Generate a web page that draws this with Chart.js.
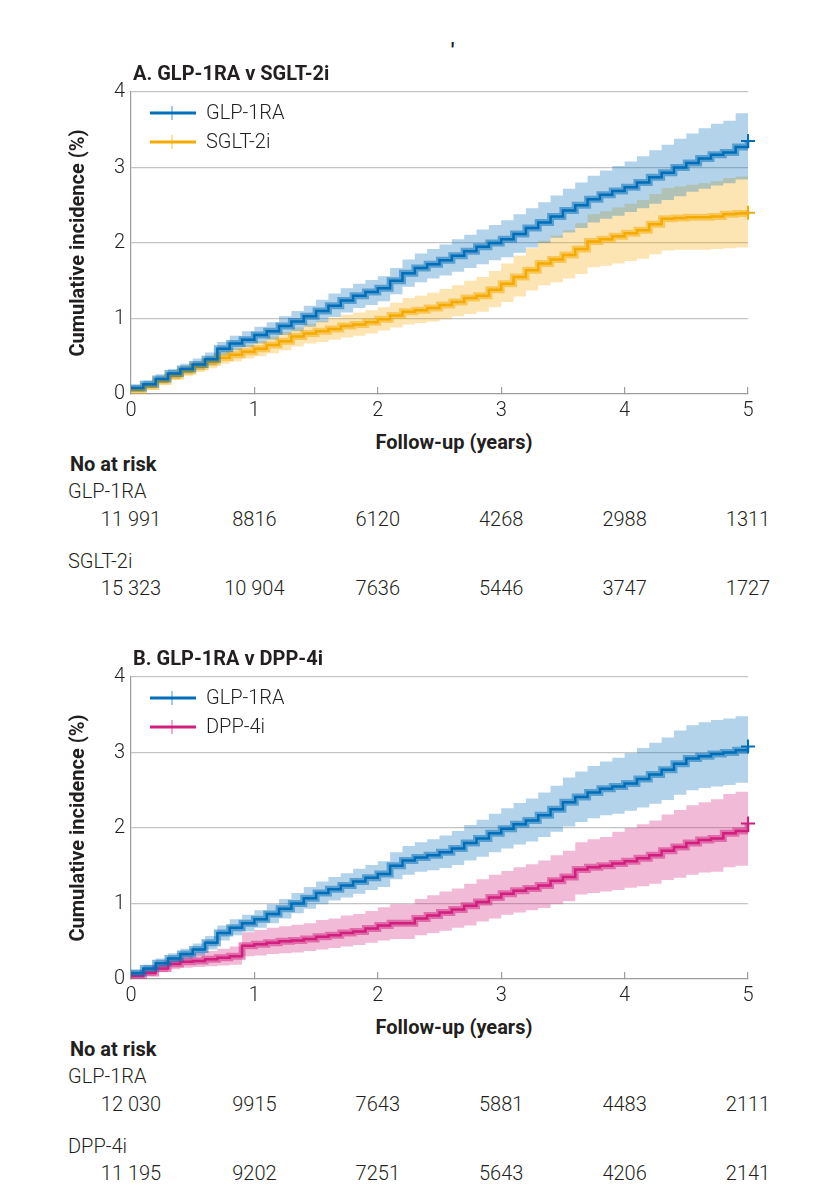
<!DOCTYPE html>
<html><head><meta charset="utf-8">
<script src="https://cdn.jsdelivr.net/npm/chart.js@4.4.1/dist/chart.umd.min.js"></script>
<style>
html,body{margin:0;padding:0;background:#fff;}
body{width:817px;height:1200px;position:relative;overflow:hidden;font-family:Roboto,"Open Sans",sans-serif;color:#231f20;}
.t{position:absolute;white-space:nowrap;line-height:20px;height:20px;font-size:20px;}
.b{font-weight:700;}
.l{font-weight:300;}
canvas{position:absolute;left:0;}
</style></head><body>
<canvas id="cA" width="817" height="340" style="top:80px"></canvas>
<canvas id="cB" width="817" height="340" style="top:665px"></canvas>
<script>
// ---------- DATA ----------
const years = [0,0.1,0.2,0.3,0.4,0.5,0.6,0.7,0.8,0.9,1,1.1,1.2,1.3,1.4,1.5,1.6,1.7,1.8,1.9,2,2.1,2.2,2.3,2.4,2.5,2.6,2.7,2.8,2.9,3,3.1,3.2,3.3,3.4,3.5,3.6,3.7,3.8,3.9,4,4.1,4.2,4.3,4.4,4.5,4.6,4.7,4.8,4.9,5];
const yTicks = [0,1,2,3,4];
const xTicks = [0,1,2,3,4,5];

// Panel A: GLP-1RA v SGLT-2i
const aGlpMid = [0.08,0.13,0.2,0.27,0.33,0.39,0.46,0.6,0.67,0.72,0.78,0.83,0.9,0.96,1.03,1.1,1.17,1.24,1.3,1.35,1.4,1.5,1.6,1.67,1.72,1.77,1.83,1.89,1.95,2.0,2.05,2.12,2.2,2.27,2.35,2.43,2.5,2.58,2.64,2.69,2.74,2.8,2.87,2.93,3.0,3.06,3.12,3.17,3.2,3.27,3.35];
const aGlpHi  = [0.12,0.18,0.26,0.33,0.4,0.47,0.55,0.69,0.77,0.83,0.89,0.95,1.03,1.1,1.17,1.25,1.33,1.4,1.46,1.51,1.56,1.67,1.78,1.86,1.92,1.98,2.05,2.11,2.18,2.24,2.3,2.38,2.46,2.54,2.63,2.72,2.8,2.89,2.96,3.02,3.08,3.15,3.23,3.3,3.38,3.45,3.52,3.58,3.62,3.72,3.82];
const aGlpLo  = [0.04,0.09,0.15,0.21,0.27,0.32,0.38,0.51,0.58,0.62,0.67,0.72,0.78,0.83,0.89,0.95,1.02,1.08,1.14,1.18,1.23,1.32,1.42,1.48,1.53,1.57,1.62,1.67,1.72,1.77,1.81,1.87,1.94,2.0,2.07,2.14,2.2,2.27,2.32,2.36,2.41,2.46,2.52,2.57,2.62,2.68,2.72,2.76,2.79,2.84,2.9];
const aSgltMid = [0.05,0.1,0.17,0.24,0.3,0.36,0.42,0.48,0.52,0.56,0.6,0.65,0.7,0.76,0.8,0.83,0.86,0.9,0.92,0.95,0.99,1.04,1.09,1.11,1.14,1.18,1.22,1.27,1.3,1.38,1.46,1.55,1.64,1.73,1.78,1.84,1.92,2.02,2.05,2.09,2.13,2.17,2.25,2.32,2.33,2.34,2.34,2.35,2.38,2.39,2.4];
const aSgltHi  = [0.08,0.14,0.21,0.29,0.36,0.42,0.49,0.56,0.61,0.65,0.7,0.76,0.82,0.88,0.93,0.97,1.01,1.05,1.08,1.11,1.15,1.21,1.27,1.3,1.34,1.39,1.44,1.5,1.55,1.63,1.73,1.83,1.93,2.03,2.1,2.17,2.26,2.38,2.42,2.47,2.52,2.57,2.65,2.73,2.75,2.77,2.79,2.82,2.86,2.88,2.9];
const aSgltLo  = [0.02,0.07,0.13,0.19,0.24,0.29,0.34,0.4,0.43,0.47,0.5,0.54,0.58,0.63,0.67,0.69,0.72,0.75,0.77,0.8,0.84,0.88,0.92,0.94,0.96,0.99,1.03,1.06,1.09,1.15,1.22,1.29,1.37,1.44,1.48,1.53,1.59,1.68,1.7,1.73,1.76,1.79,1.85,1.9,1.91,1.91,1.91,1.92,1.93,1.94,1.95];
const aRiskGlp  = ["11 991","8816","6120","4268","2988","1311"];
const aRiskSglt = ["15 323","10 904","7636","5446","3747","1727"];

// Panel B: GLP-1RA v DPP-4i
const bGlpMid = [0.08,0.14,0.21,0.27,0.33,0.39,0.48,0.61,0.68,0.74,0.79,0.86,0.93,1.0,1.07,1.14,1.19,1.24,1.29,1.34,1.39,1.5,1.57,1.61,1.64,1.68,1.73,1.8,1.86,1.93,1.99,2.05,2.1,2.17,2.25,2.34,2.41,2.47,2.52,2.55,2.59,2.65,2.71,2.77,2.85,2.92,2.95,2.98,3.0,3.03,3.08];
const bGlpHi  = [0.12,0.19,0.27,0.34,0.4,0.47,0.57,0.71,0.79,0.85,0.91,0.99,1.06,1.14,1.22,1.29,1.35,1.4,1.46,1.51,1.56,1.68,1.76,1.81,1.85,1.9,1.96,2.04,2.11,2.19,2.26,2.33,2.39,2.47,2.56,2.67,2.75,2.82,2.88,2.93,2.99,3.06,3.13,3.2,3.29,3.36,3.4,3.43,3.45,3.48,3.52];
const bGlpLo  = [0.04,0.09,0.16,0.21,0.26,0.31,0.39,0.51,0.58,0.63,0.68,0.74,0.8,0.87,0.93,0.99,1.04,1.08,1.13,1.18,1.22,1.32,1.38,1.42,1.44,1.47,1.51,1.57,1.62,1.68,1.73,1.78,1.82,1.88,1.95,2.02,2.08,2.13,2.17,2.19,2.23,2.27,2.32,2.37,2.44,2.5,2.53,2.55,2.57,2.6,2.64];
const bDppMid = [0.04,0.08,0.14,0.2,0.23,0.24,0.26,0.28,0.3,0.44,0.46,0.48,0.5,0.51,0.53,0.56,0.58,0.61,0.63,0.67,0.71,0.74,0.74,0.8,0.84,0.88,0.92,0.97,1.02,1.08,1.13,1.17,1.2,1.24,1.3,1.35,1.45,1.48,1.5,1.53,1.56,1.6,1.64,1.7,1.75,1.8,1.84,1.86,1.93,1.96,2.06];
const bDppHi  = [0.07,0.13,0.21,0.29,0.33,0.35,0.37,0.4,0.43,0.62,0.65,0.68,0.7,0.72,0.74,0.78,0.8,0.84,0.86,0.9,0.95,0.99,0.99,1.06,1.11,1.16,1.2,1.26,1.32,1.38,1.43,1.48,1.52,1.57,1.64,1.7,1.81,1.85,1.88,1.95,2.0,2.05,2.1,2.18,2.24,2.3,2.34,2.38,2.45,2.48,2.55];
const bDppLo  = [0.01,0.04,0.09,0.13,0.15,0.16,0.17,0.18,0.19,0.3,0.31,0.33,0.34,0.35,0.37,0.39,0.41,0.43,0.45,0.48,0.51,0.53,0.53,0.58,0.61,0.64,0.68,0.71,0.76,0.8,0.85,0.88,0.91,0.94,0.99,1.03,1.12,1.14,1.16,1.18,1.21,1.23,1.26,1.31,1.34,1.38,1.41,1.42,1.48,1.5,1.57];
const bRiskGlp = ["12 030","9915","7643","5881","4483","2111"];
const bRiskDpp = ["11 195","9202","7251","5643","4206","2141"];

// ---------- STYLE ----------
const BLUE = [0,110,184], YEL = [245,170,0], PINK = [210,30,125];
const rgba = (c,a) => `rgba(${c[0]},${c[1]},${c[2]},${a})`;
const FONT = 'Roboto, "Open Sans", sans-serif';
const TXT = '#231f20';

function pts(arr){ return arr.map((v,i)=>({x:years[i], y:v})); }

function seriesSets(name, col, lo, hi, mid){
  const last = mid.length-1;
  return [
    {label:name+' lo', data:pts(lo), stepped:'before', borderWidth:0, pointRadius:0, fill:false, backgroundColor:'transparent'},
    {label:name+' hi', data:pts(hi), stepped:'before', borderWidth:0, pointRadius:0, fill:'-1', backgroundColor:rgba(col,0.3)},
    {label:name+' halo', data:pts(mid), stepped:'before', borderColor:rgba(col,0.5), borderWidth:7, pointRadius:0, fill:false},
    {label:name, data:pts(mid), stepped:'before', borderColor:rgba(col,1), borderWidth:2.5, fill:false, clip:false,
     pointStyle:'cross', pointRadius:ctx=>ctx.dataIndex===last?7:0, pointBorderColor:rgba(col,1), pointBorderWidth:2, pointBackgroundColor:rgba(col,1)}
  ];
}

const legendPlugin = {
  id:'kmLegend',
  afterDraw(chart){
    const items = chart.options.plugins.kmLegend.items;
    const ctx = chart.ctx, L = chart.chartArea.left, T = chart.chartArea.top;
    ctx.save();
    items.forEach((it,i)=>{
      const y = T + 21 + i*29;
      ctx.strokeStyle = rgba(it.col,1); ctx.lineWidth = 3;
      ctx.beginPath(); ctx.moveTo(L+19,y); ctx.lineTo(L+65,y); ctx.stroke();
      ctx.strokeStyle = rgba(it.col,0.6); ctx.lineWidth = 1.2;
      ctx.beginPath(); ctx.moveTo(L+41,y-7); ctx.lineTo(L+41,y+7); ctx.stroke();
      ctx.fillStyle = TXT; ctx.font = '300 20px '+FONT; ctx.textBaseline='middle'; ctx.textAlign='left';
      ctx.fillText(it.name, L+75, y+1);
    });
    ctx.restore();
  }
};

function makeChart(id, sets, legendItems){
  return new Chart(document.getElementById(id), {
    type:'line',
    data:{datasets:sets},
    plugins:[legendPlugin],
    options:{
      responsive:false, animation:false, events:[],
      layout:{padding:{left:0,right:69,top:0,bottom:0}},
      plugins:{legend:{display:false}, tooltip:{enabled:false}, filler:{drawTime:'beforeDatasetsDraw'}, kmLegend:{items:legendItems}},
      scales:{
        x:{type:'linear', min:0, max:5,
           afterBuildTicks(s){ s.ticks = xTicks.map(v=>({value:v})); },
           ticks:{font:{family:FONT,size:20,weight:'300'}, color:TXT, padding:12, maxRotation:0},
           grid:{drawOnChartArea:false, drawTicks:true, tickLength:-7, color:'#9d9d9d', lineWidth:1.2},
           border:{display:true, color:'#9d9d9d', width:1.2},
           afterFit(s){ s.height = 26; }},
        y:{min:0, max:4,
           afterBuildTicks(s){ s.ticks = yTicks.map(v=>({value:v})); },
           ticks:{font:{family:FONT,size:20,weight:'300'}, color:TXT, padding:6},
           grid:{drawTicks:false, color:ctx=>ctx.tick && ctx.tick.value===0?'rgba(0,0,0,0)':'#c4c4c4', lineWidth:1.3},
           border:{display:true, color:'#9d9d9d', width:1.2},
           title:{display:true, text:'Cumulative incidence (%)', font:{family:FONT,size:20,weight:'700'}, color:TXT, padding:{top:67,bottom:0}},
           afterFit(s){ s.width = 131; s.paddingTop = 12; }}
      }
    }
  });
}

const chartA = makeChart('cA', [
  ...seriesSets('GLP-1RA', BLUE, aGlpLo, aGlpHi, aGlpMid),
  ...seriesSets('SGLT-2i', YEL, aSgltLo, aSgltHi, aSgltMid)
], [{name:'GLP-1RA', col:BLUE},{name:'SGLT-2i', col:YEL}]);

const chartB = makeChart('cB', [
  ...seriesSets('GLP-1RA', BLUE, bGlpLo, bGlpHi, bGlpMid),
  ...seriesSets('DPP-4i', PINK, bDppLo, bDppHi, bDppMid)
], [{name:'GLP-1RA', col:BLUE},{name:'DPP-4i', col:PINK}]);

// ---------- TEXT ----------
function put(text, x, yc, cls, align){
  const d = document.createElement('div');
  d.className = 't '+cls; d.textContent = text;
  d.style.top = (yc-11)+'px';
  if(align==='center'){ d.style.left=(x-100)+'px'; d.style.width='200px'; d.style.textAlign='center'; }
  else d.style.left = x+'px';
  document.body.appendChild(d);
}
function panelText(chart, off, title, n1, r1, n2, r2){
  put(title, 133, 74+off, 'b');
  const xs = chart.scales.x;
  put('Follow-up (years)', 454, 443+off, 'b', 'center');
  put('No at risk', 70, 465+off, 'b');
  put(n1, 68, 492+off, 'l');
  r1.forEach((v,i)=>put(v, xs.getPixelForValue(xTicks[i]), 520+off, 'l', 'center'));
  put(n2, 68, 562+off, 'l');
  r2.forEach((v,i)=>put(v, xs.getPixelForValue(xTicks[i]), 589+off, 'l', 'center'));
}
panelText(chartA, 0, 'A. GLP-1RA v SGLT-2i', 'GLP-1RA', aRiskGlp, 'SGLT-2i', aRiskSglt);
panelText(chartB, 585, 'B. GLP-1RA v DPP-4i', 'GLP-1RA', bRiskGlp, 'DPP-4i', bRiskDpp);
put("'", 451, 51, 'b');
</script>
</body></html>
